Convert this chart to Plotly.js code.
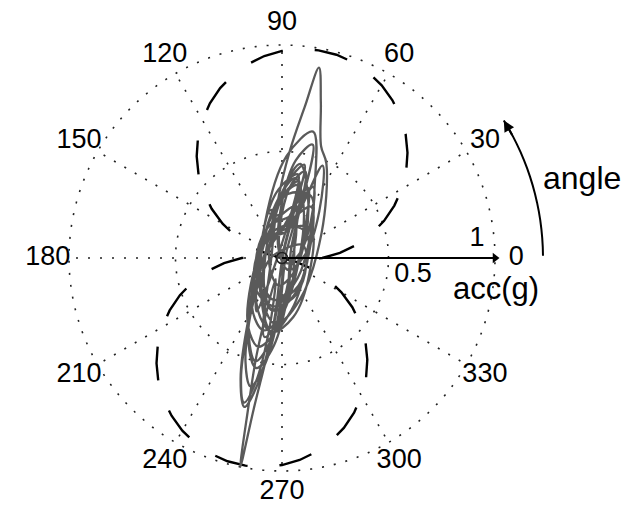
<!DOCTYPE html>
<html>
<head>
<meta charset="utf-8">
<script src="https://cdn.plot.ly/plotly-3.0.1.min.js"></script>
<style>html,body{margin:0;padding:0;background:#fff;}#chart{width:632px;height:508px;}</style>
</head>
<body>
<div id="chart"></div>
<script>
// ---------------- data ----------------
const tickAngles = [0, 30, 60, 90, 120, 150, 180, 210, 240, 270, 300, 330];
const tickLabels = ['0', '30', '60', '90', '120', '150', '180', '210', '240', '270', '300', '330'];
const ringValues = [0.5, 1];
const radialLabels = ['1', '0.5'];

// dashed reference curve (two lobes), polar samples
const lobeTheta = [0,5,10,15,20,25,30,35,40,45,50,55,60,65,70,75,80,85,90,95,100,105,110,115,120,125,130,135,140,145,150,155,160,165,169,
                   170,175,180,185,190,195,200,205,210,215,220,225,230,235,240,245,250,255,260,265,270,275,280,285,290,295,300,305,310,315,320,325,330,335,340,345,349,350,355,360];
const lobeR = [0.189,0.273,0.355,0.434,0.510,0.582,0.650,0.712,0.769,0.821,0.866,0.904,0.936,0.961,0.978,0.988,0.990,0.985,0.972,0.952,0.924,0.890,0.849,0.801,0.747,0.688,0.623,0.554,0.480,0.403,0.322,0.239,0.155,0.069,0.0,
               0.017,0.103,0.189,0.273,0.355,0.434,0.510,0.582,0.650,0.712,0.769,0.821,0.866,0.904,0.936,0.961,0.978,0.988,0.990,0.985,0.972,0.952,0.924,0.890,0.849,0.801,0.747,0.688,0.623,0.554,0.480,0.403,0.322,0.239,0.155,0.069,0.0,0.017,0.103,0.189];

// acceleration trajectory (g): component along the dominant axis (accU) and across it (accV)
const axisDeg = 79;
const accU = [0,
  0.45,0.333,0.05,-0.233,-0.35,-0.233,0.05,0.333,
  0.61,0.475,0.15,-0.175,-0.31,-0.175,0.15,0.475,
  0.55,0.75,0.91,0.72,0.5,0.25,0.0,
  -0.38,-0.269,0,0.269,0.38,0.269,0,-0.269,
  0.4,0.312,0.1,-0.112,-0.2,-0.112,0.1,0.312,
  0.3,0.183,-0.1,-0.383,-0.5,-0.383,-0.1,0.183,
  0.12,-0.003,-0.3,-0.597,-0.72,-0.597,-0.3,-0.003,
  0.37,0.297,0.12,-0.057,-0.13,-0.057,0.12,0.297,
  0.45,0.347,0.24,0.205,0.19,0.2,0.215,0.17,0.1,-0.147,-0.25,-0.147,0.1,0.347,
  0.12,0.012,-0.25,-0.512,-0.62,-0.512,-0.25,0.012,
  0.25,0.162,-0.05,-0.262,-0.35,-0.262,-0.05,0.162,
  0.13,0.033,-0.2,-0.433,-0.53,-0.433,-0.2,0.033,
  0.42,0.356,0.2,0.044,-0.02,0.044,0.2,0.356,
  0.2,0.141,0,-0.141,-0.2,-0.141,0,0.141,
  0.15,0.077,-0.1,-0.277,-0.35,-0.277,-0.1,0.077,
  0.35,0.262,0.05,-0.162,-0.25,-0.162,0.05,0.262,
  0.13,0.048,-0.15,-0.348,-0.43,-0.348,-0.15,0.048,
  0.55,0.462,0.25,0.038,-0.05,0.038,0.25,0.462,
  0.13,0.077,-0.05,-0.177,-0.23,-0.177,-0.05,0.077,
  0.0,-0.103,-0.35,-0.597,-0.70,-0.597,-0.35,-0.103,
  -0.45,-0.75,-1.0,-0.72,-0.4,-0.1,0];
const accV = [0,
  -0.02,0.05,0.08,0.05,-0.02,-0.09,-0.12,-0.09,
  -0.03,0.07,0.11,0.07,-0.03,-0.12,-0.16,-0.12,
  -0.08,-0.04,0.0,0.03,0.06,0.07,0.05,
  0.01,-0.05,-0.08,-0.05,0.01,0.07,0.10,0.07,
  0,0.078,0.11,0.078,0,-0.078,-0.11,-0.078,
  0.03,0.085,0.11,0.085,0.03,-0.025,-0.05,-0.025,
  0.04,0.082,0.10,0.082,0.04,-0.002,-0.02,-0.002,
  -0.01,0.047,0.07,0.047,-0.01,-0.067,-0.09,-0.067,
  0,0.049,0.05,0.04,0.075,0.105,0.08,0.065,0.08,0.057,0,-0.057,-0.08,-0.057,
  0.03,0.075,0.095,0.075,0.03,-0.015,-0.035,-0.015,
  -0.02,0.065,0.10,0.065,-0.02,-0.105,-0.14,-0.105,
  0.02,0.075,0.10,0.075,0.02,-0.035,-0.06,-0.035,
  -0.03,0.02,0.04,0.02,-0.03,-0.08,-0.10,-0.08,
  0,0.085,0.12,0.085,0,-0.085,-0.12,-0.085,
  0.02,0.085,0.11,0.085,0.02,-0.045,-0.07,-0.045,
  -0.01,0.068,0.10,0.068,-0.01,-0.088,-0.12,-0.088,
  0.03,0.094,0.12,0.094,0.03,-0.034,-0.06,-0.034,
  -0.04,0.024,0.05,0.024,-0.04,-0.104,-0.13,-0.104,
  0,0.085,0.12,0.085,0,-0.085,-0.12,-0.085,
  0.045,0.08,0.095,0.08,0.045,0.01,-0.005,0.01,
  0.03,0.02,0.005,-0.005,-0.02,-0.02,0];

// ---------------- layout constants ----------------
const W = 632, H = 508;
const CX = 282, CY = 258;      // pixel centre of the polar plot
const PX_PER_UNIT = 213;        // pixels for r = 1 g
const RMAX = 1.17;
const RPX = RMAX * PX_PER_UNIT;
const FONT = 'Liberation Sans, Arial, Helvetica, sans-serif';

// ---------------- traces ----------------
const gridDash = '2px,10px';
const spokeR = [], spokeT = [];
tickAngles.forEach(a => { spokeR.push(0, 1, null); spokeT.push(a, a, null); });
const ringR = [], ringT = [];
ringValues.forEach(v => { for (let t = 0; t <= 360; t += 1) { ringR.push(v); ringT.push(t); } ringR.push(null); ringT.push(null); });

const trajR = accU.map((u, i) => Math.hypot(u, accV[i]));
const trajT = accU.map((u, i) => axisDeg + Math.atan2(accV[i], u) * 180 / Math.PI);

const traces = [
  {type:'scatterpolar', mode:'lines', r:spokeR, theta:spokeT, line:{color:'#222', width:1.6, dash:gridDash}, hoverinfo:'skip'},
  {type:'scatterpolar', mode:'lines', r:ringR, theta:ringT, line:{color:'#222', width:1.6, dash:gridDash}, hoverinfo:'skip'},
  {type:'scatterpolar', mode:'lines', r:lobeR, theta:lobeTheta, line:{color:'#000', width:2.4, dash:'34px,32px'}},
  {type:'scatterpolar', mode:'lines', r:trajR, theta:trajT, line:{color:'#5a5a5a', width:2.3, shape:'spline', smoothing:1}},
  {type:'scatterpolar', mode:'lines', r:[0, 1.0], theta:[0, 0], line:{color:'#000', width:2}},
  {type:'scatterpolar', mode:'markers', r:[1.0], theta:[0], marker:{symbol:'triangle-right', size:9, color:'#000'}},
  {type:'scatterpolar', mode:'markers', r:[0], theta:[0], marker:{symbol:'circle-open', size:11, color:'#222', line:{width:1.6}}},
  {type:'scatterpolar', mode:'text', r:tickAngles.map(() => 1.10), theta:tickAngles, text:tickLabels,
   textposition:'middle center', textfont:{family:FONT, size:27, color:'#000'}, cliponaxis:false},
  {type:'scatterpolar', mode:'text', r:[0.92, 0.62], theta:[5.6, -7.4], text:radialLabels,
   textposition:'middle center', textfont:{family:FONT, size:27, color:'#000'}, cliponaxis:false}
];

// ---------------- decorations ----------------
const px = x => x / W, py = y => 1 - y / H;
const ARC_R = 261, ARC_A0 = 0.5, ARC_A1 = 31.8;
let path = '';
for (let a = ARC_A0, k = 0; a <= ARC_A1 + 1e-9; a += (ARC_A1 - ARC_A0) / 16, k++) {
  const rad = a * Math.PI / 180;
  const x = CX + ARC_R * Math.cos(rad), y = CY - ARC_R * Math.sin(rad);
  path += (k === 0 ? 'M' : ' L') + px(x).toFixed(5) + ',' + py(y).toFixed(5);
}
const tipRad = ARC_A1 * Math.PI / 180, tailRad = (ARC_A1 - 4) * Math.PI / 180;
const tipX = CX + ARC_R * Math.cos(tipRad), tipY = CY - ARC_R * Math.sin(tipRad);
const tailX = CX + ARC_R * Math.cos(tailRad), tailY = CY - ARC_R * Math.sin(tailRad);

const layout = {
  width: W, height: H,
  margin: {l:0, r:0, t:0, b:0},
  paper_bgcolor: '#fff',
  showlegend: false,
  polar: {
    domain: {x:[(CX - RPX) / W, (CX + RPX) / W], y:[((H - CY) - RPX) / H, ((H - CY) + RPX) / H]},
    bgcolor: 'rgba(0,0,0,0)',
    radialaxis: {range:[0, RMAX], visible:false},
    angularaxis: {visible:false, rotation:0, direction:'counterclockwise'}
  },
  shapes: [
    {type:'path', xref:'paper', yref:'paper', path:path, line:{color:'#000', width:2}}
  ],
  annotations: [
    {xref:'paper', yref:'paper', x:px(582), y:py(178), text:'angle', showarrow:false,
     xanchor:'center', yanchor:'middle', font:{family:FONT, size:32, color:'#000'}},
    {xref:'paper', yref:'paper', x:px(496), y:py(288), text:'acc(g)', showarrow:false,
     xanchor:'center', yanchor:'middle', font:{family:FONT, size:31, color:'#000'}},
    {xref:'paper', yref:'paper', x:px(tipX), y:py(tipY), text:'', showarrow:true,
     ax:tailX - tipX, ay:tailY - tipY, arrowhead:2, arrowsize:1.1, arrowwidth:2, arrowcolor:'#000', standoff:0}
  ]
};

Plotly.newPlot('chart', traces, layout, {staticPlot:true, displayModeBar:false});
</script>
</body>
</html>
